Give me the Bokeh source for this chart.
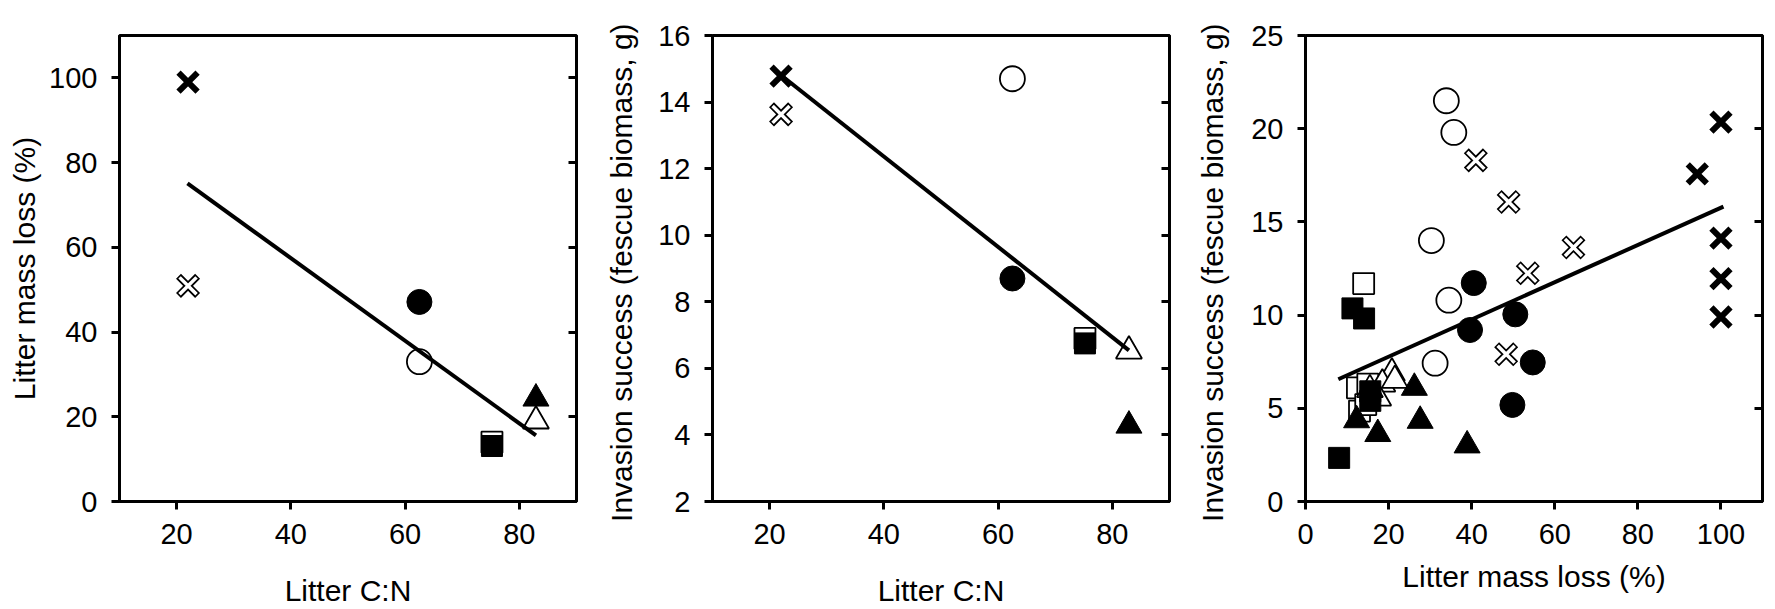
from bokeh.plotting import figure
from bokeh.layouts import row
from bokeh.models import LinearAxis, FixedTicker, Range1d
from bokeh.embed import file_html
from bokeh.resources import INLINE

# ---------------- data ----------------
# species groups (marker styles): A bold x, B outlined x, C open circle, D filled circle,
# E open square, F filled square, G open triangle, H filled triangle
cn_ratio = {"A": 22, "B": 22, "C": 62.5, "D": 62.5, "E": 75.2, "F": 75.2, "G": 82.9, "H": 82.9}

# Panel 1: litter mass loss (%) vs litter C:N
mass_loss = {"A": 99.0, "B": 50.9, "C": 33.0, "D": 47.1, "E": 14.0, "F": 13.1, "G": 19.0, "H": 24.3}
fit1_x = [21.9, 82.9]
fit1_y = [75.1, 15.6]

# Panel 2: invasion success (g) vs litter C:N
invasion_mean = {"A": 14.78, "B": 13.63, "C": 14.70, "D": 8.70, "E": 6.90, "F": 6.75, "G": 6.52, "H": 4.28}
fit2_x = [21.9, 82.9]
fit2_y = [14.82, 6.54]

# Panel 3: invasion success (g) vs litter mass loss (%), replicates
rep_loss = {
    "A": [94.3, 100.0, 100.0, 100.0, 100.0],
    "B": [41.0, 48.9, 64.5, 53.5, 48.3],
    "C": [33.9, 35.7, 30.3, 34.5, 31.2],
    "D": [40.5, 39.6, 50.5, 54.7, 49.8],
    "E": [14.0, 12.5, 13.0, 15.0, 14.5],
    "F": [8.1, 11.3, 14.1, 15.6, 15.6],
    "G": [20.8, 18.5, 17.5, 21.5, 15.5],
    "H": [26.2, 27.6, 17.4, 38.9, 12.3],
}
rep_invasion = {
    "A": [17.58, 20.35, 14.13, 11.96, 9.90],
    "B": [18.30, 16.07, 13.63, 12.24, 7.90],
    "C": [21.50, 19.80, 14.00, 10.80, 7.42],
    "D": [11.72, 9.20, 10.04, 7.46, 5.18],
    "E": [11.69, 6.10, 4.85, 6.30, 5.20],
    "F": [2.34, 10.36, 9.82, 5.91, 5.40],
    "G": [6.89, 6.30, 5.55, 6.50, 6.00],
    "H": [6.10, 4.33, 3.62, 3.01, 4.36],
}
fit3_x = [7.9, 100.6]
fit3_y = [6.56, 15.82]

FONT = "Liberation Sans"
DRAW_ORDER = ["C", "E", "G", "B", "D", "F", "H", "A"]


def draw_group(p, xs, ys, g):
    if g == "A":
        p.scatter(xs, ys, marker="x", size=27, line_width=6, line_color="black")
    elif g == "B":
        p.scatter(xs, ys, marker="x", size=27, line_width=7, line_color="black")
        p.scatter(xs, ys, marker="x", size=24, line_width=3.5, line_color="white")
    elif g == "C":
        p.scatter(xs, ys, marker="circle", size=25, fill_color="white", line_color="black", line_width=1.8)
    elif g == "D":
        p.scatter(xs, ys, marker="circle", size=25, fill_color="black", line_color="black", line_width=1)
    elif g == "E":
        p.scatter(xs, ys, marker="square", size=21, fill_color="white", line_color="black", line_width=1.8)
    elif g == "F":
        p.scatter(xs, ys, marker="square", size=21, fill_color="black", line_color="black", line_width=1)
    elif g == "G":
        p.scatter(xs, ys, marker="triangle", size=26, fill_color="white", line_color="black", line_width=1.8)
    elif g == "H":
        p.scatter(xs, ys, marker="triangle", size=26, fill_color="black", line_color="black", line_width=1)


def make_fig(xr, yr, xticks, yticks, xlabel, ylabel, width, mb_right, ylab_standoff, xlab_standoff):
    p = figure(width=width, height=609, x_range=Range1d(*xr), y_range=Range1d(*yr),
               output_backend="svg", toolbar_location=None,
               min_border_left=119, min_border_right=mb_right,
               min_border_top=35, min_border_bottom=106,
               background_fill_color="white", border_fill_color="white")
    p.grid.visible = False
    p.outline_line_color = "black"
    p.outline_line_width = 3
    p.xaxis.ticker = FixedTicker(ticks=xticks)
    p.yaxis.ticker = FixedTicker(ticks=yticks)
    p.xaxis.axis_label = xlabel
    p.yaxis.axis_label = ylabel
    for ax in (p.xaxis[0], p.yaxis[0]):
        ax.axis_line_width = 3
        ax.axis_line_color = "black"
        ax.major_tick_line_width = 3
        ax.major_tick_line_color = "black"
        ax.major_tick_out = 8
        ax.major_tick_in = 0
        ax.minor_tick_line_color = None
        ax.major_label_text_font = FONT
        ax.major_label_text_font_size = "29px"
        ax.major_label_text_color = "black"
        ax.major_label_standoff = 14
        ax.axis_label_text_font = FONT
        ax.axis_label_text_font_size = "30px"
        ax.axis_label_text_font_style = "normal"
        ax.axis_label_text_color = "black"
    p.yaxis.axis_label_standoff = ylab_standoff
    p.xaxis.axis_label_standoff = xlab_standoff
    rax = LinearAxis(ticker=FixedTicker(ticks=yticks), major_tick_in=8, major_tick_out=0,
                     major_tick_line_width=3, major_tick_line_color="black",
                     axis_line_width=3, axis_line_color="black",
                     minor_tick_line_color=None, major_label_text_font_size="0px",
                     major_label_text_color=None)
    p.add_layout(rax, "right")
    return p


p1 = make_fig((10, 90), (0, 110), [20, 40, 60, 80], [0, 20, 40, 60, 80, 100],
              "Litter C:N", "Litter mass loss (%)", 593, 17, 5, 27)
for g in DRAW_ORDER:
    draw_group(p1, [cn_ratio[g]], [mass_loss[g]], g)
p1.line(fit1_x, fit1_y, line_color="black", line_width=4)

p2 = make_fig((10, 90), (2, 16), [20, 40, 60, 80], [2, 4, 6, 8, 10, 12, 14, 16],
              "Litter C:N", "Invasion success  (fescue biomass, g)", 593, 17, 17, 27)
for g in DRAW_ORDER:
    draw_group(p2, [cn_ratio[g]], [invasion_mean[g]], g)
p2.line(fit2_x, fit2_y, line_color="black", line_width=4)

p3 = make_fig((0, 110), (0, 25), [0, 20, 40, 60, 80, 100], [0, 5, 10, 15, 20, 25],
              "Litter mass loss (%)", "Invasion success  (fescue biomass, g)", 586, 10, 19, 13)
for g in DRAW_ORDER:
    draw_group(p3, rep_loss[g], rep_invasion[g], g)
p3.line(fit3_x, fit3_y, line_color="black", line_width=4)

layout = row(p1, p2, p3, spacing=0)
open("out.html", "w").write(file_html(layout, INLINE))
